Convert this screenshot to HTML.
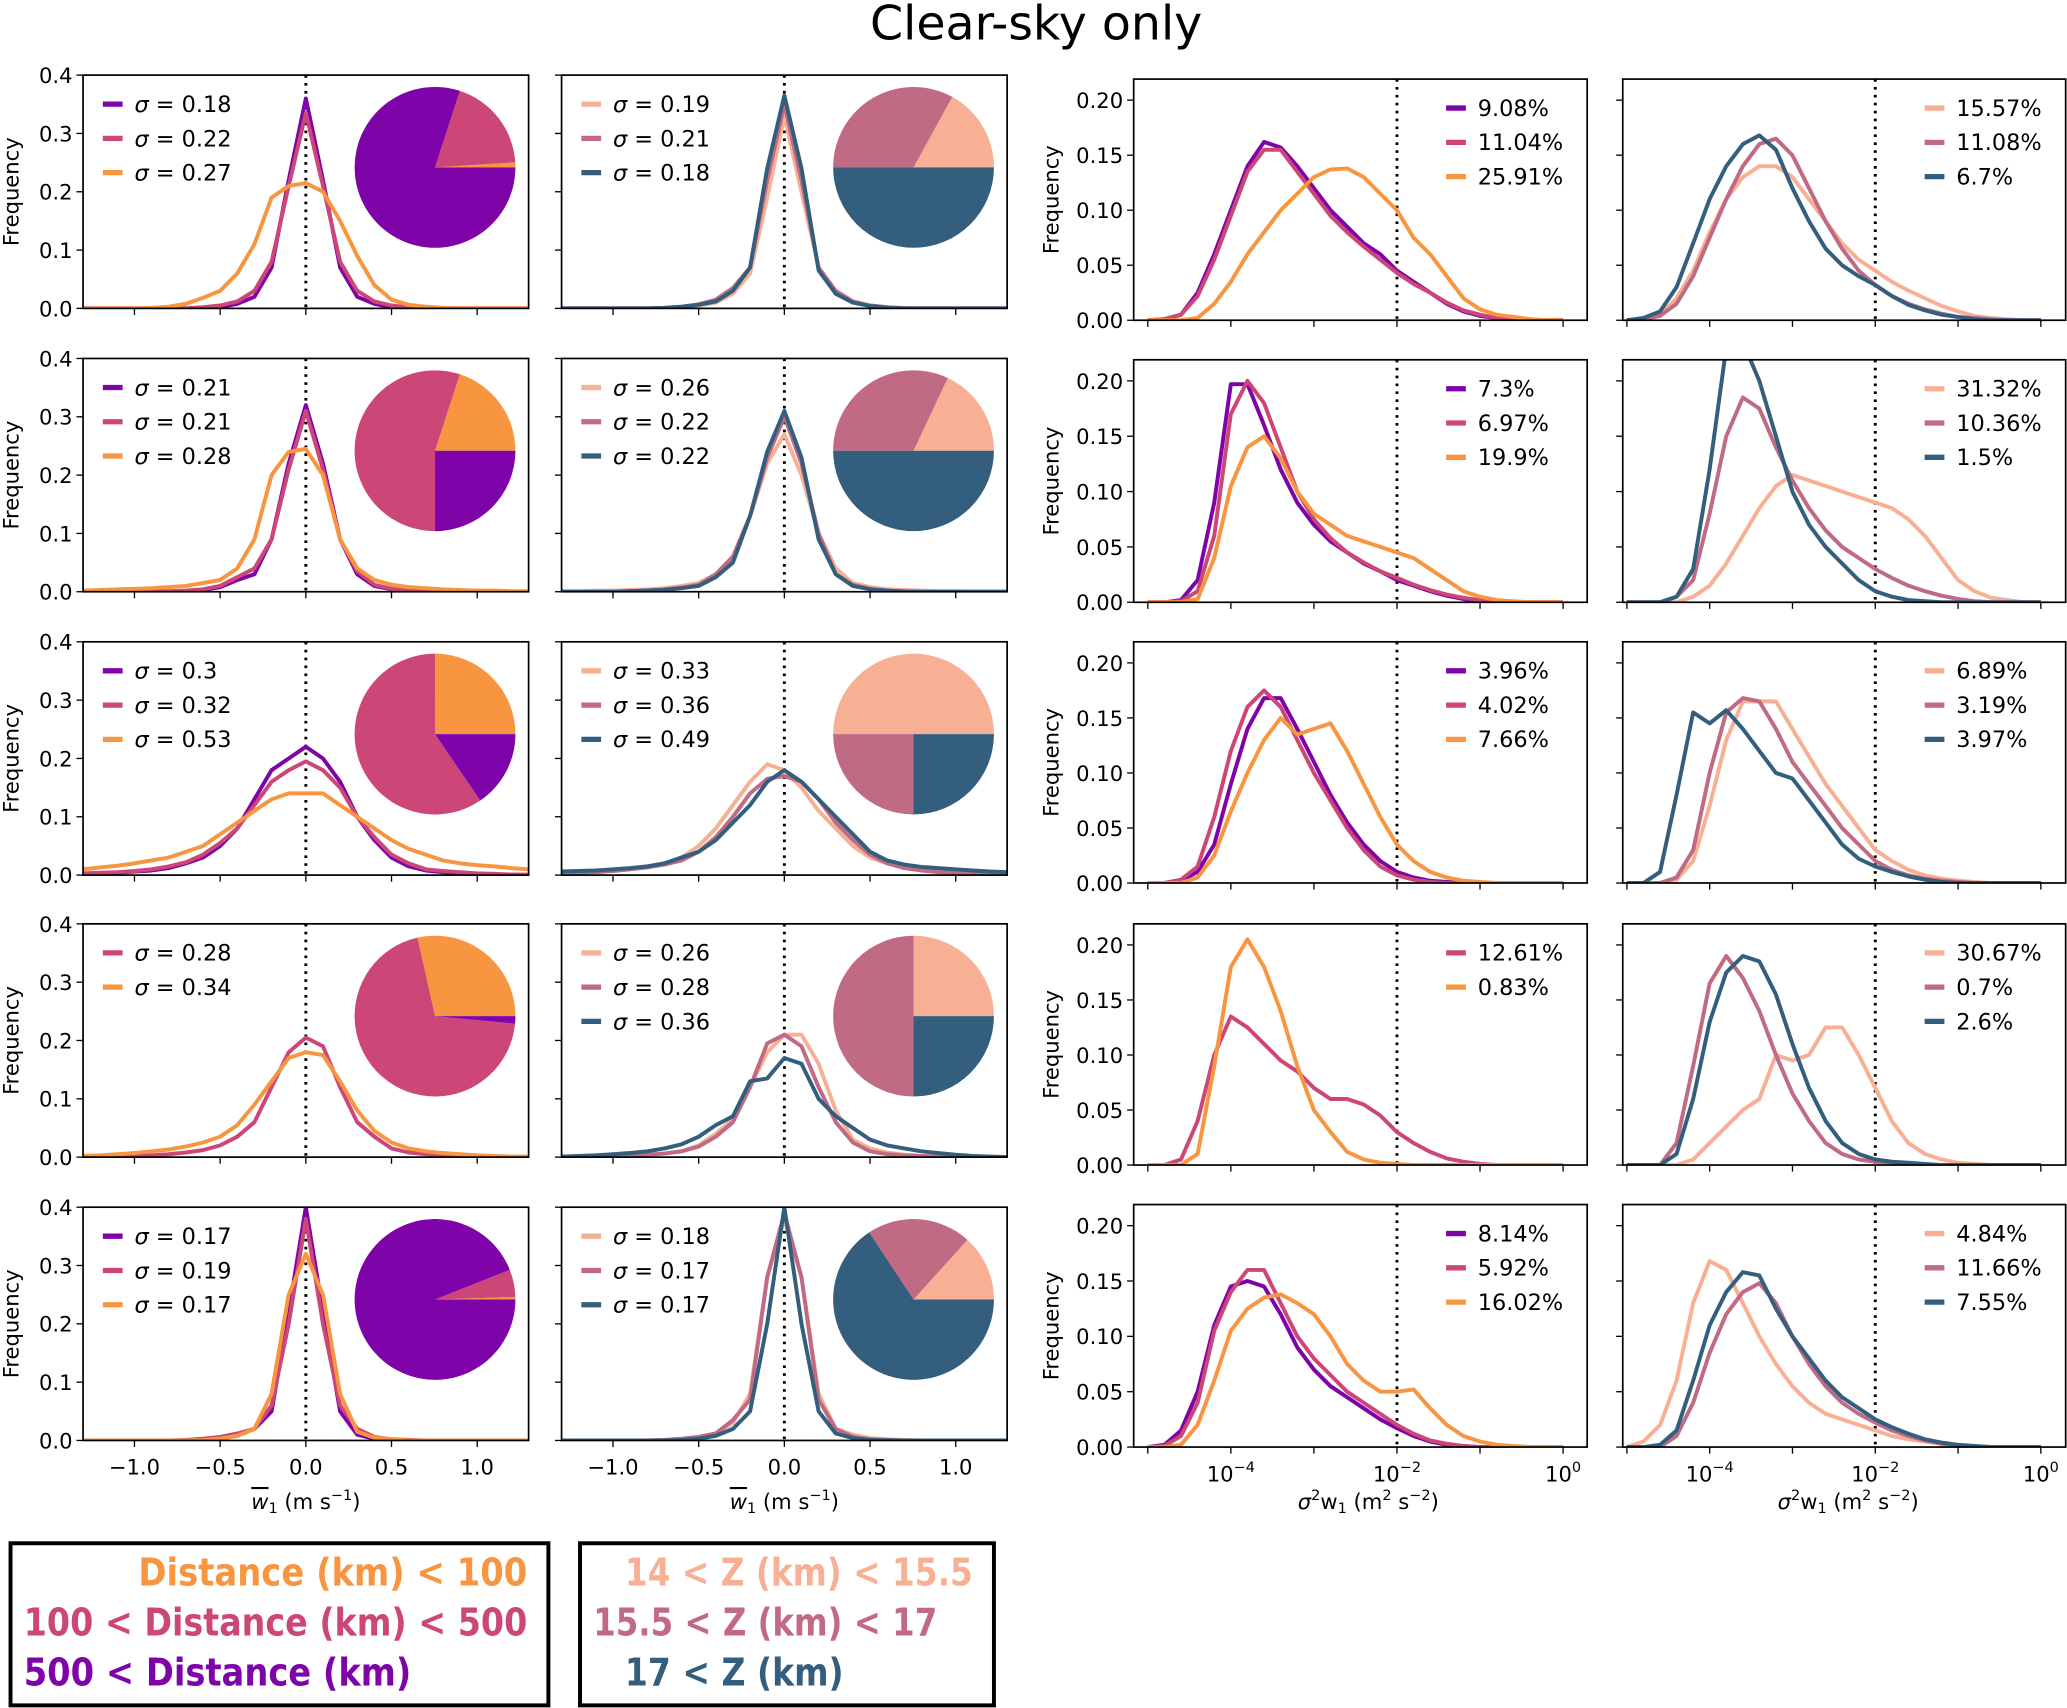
<!DOCTYPE html>
<html><head><meta charset="utf-8"><style>
html,body{margin:0;padding:0;background:#fff;}
svg{display:block;font-family:"DejaVu Sans","Liberation Sans",sans-serif;}
</style></head><body>
<svg id="fig" width="2067" height="1708" viewBox="0 0 1568 1296" preserveAspectRatio="none" xmlns="http://www.w3.org/2000/svg">
<text x="786" y="30" font-size="36" text-anchor="middle">Clear-sky only</text>
<g>
<rect x="8" y="1171" width="408" height="123" fill="none" stroke="#000" stroke-width="3"/>
<text x="400" y="1203" font-size="29" font-weight="bold" fill="#f89540" text-anchor="end" textLength="295" lengthAdjust="spacingAndGlyphs">Distance (km) &lt; 100</text>
<text x="400" y="1241" font-size="29" font-weight="bold" fill="#cc4778" text-anchor="end" textLength="382" lengthAdjust="spacingAndGlyphs">100 &lt; Distance (km) &lt; 500</text>
<text x="18" y="1279" font-size="29" font-weight="bold" fill="#7e03a8" textLength="294" lengthAdjust="spacingAndGlyphs">500 &lt; Distance (km)</text>
</g>
<g>
<rect x="440" y="1171" width="314" height="123" fill="none" stroke="#000" stroke-width="3"/>
<text x="474" y="1203" font-size="29" font-weight="bold" fill="#f7b094" textLength="264" lengthAdjust="spacingAndGlyphs">14 &lt; Z (km) &lt; 15.5</text>
<text x="450" y="1241" font-size="29" font-weight="bold" fill="#c06a84" textLength="261" lengthAdjust="spacingAndGlyphs">15.5 &lt; Z (km) &lt; 17</text>
<text x="474" y="1279" font-size="29" font-weight="bold" fill="#345e7e" textLength="166" lengthAdjust="spacingAndGlyphs">17 &lt; Z (km)</text>
</g>
</svg>
<script>
// ---- data ----
const wBins = [-1.3,-1.2,-1.1,-1.0,-0.9,-0.8,-0.7,-0.6,-0.5,-0.4,-0.3,-0.2,-0.1,0,0.1,0.2,0.3,0.4,0.5,0.6,0.7,0.8,0.9,1.0,1.1,1.2,1.3];
const logBins = [-5,-4.8,-4.6,-4.4,-4.2,-4.0,-3.8,-3.6,-3.4,-3.2,-3.0,-2.8,-2.6,-2.4,-2.2,-2.0,-1.8,-1.6,-1.4,-1.2,-1.0,-0.8,-0.6,-0.4,-0.2,0];
const distColors = {O:'#f89540',K:'#cc4778',P:'#7e03a8'};
const altColors = {L:'#f7b094',M:'#c06a84',D:'#345e7e'};

const meanR1C1 = {P:[0,0,0,0,0,0,0,0,.002,.008,.02,.07,.22,.36,.22,.07,.02,.008,.002,0,0,0,0,0,0,0,0],
 K:[0,0,0,0,0,0,0,.002,.005,.012,.03,.08,.21,.335,.21,.08,.03,.012,.005,.002,0,0,0,0,0,0,0],
 O:[0,0,0,0,.001,.003,.008,.018,.03,.06,.11,.19,.21,.215,.2,.15,.09,.04,.015,.006,.003,.001,0,0,0,0,0]};
const meanR1C2 = {L:[0,0,0,0,0,0,0,.002,.005,.01,.025,.06,.19,.33,.2,.07,.025,.01,.005,.002,.001,0,0,0,0,0,0],
 M:[0,0,0,0,0,0,.001,.003,.007,.015,.035,.07,.22,.35,.22,.07,.03,.012,.005,.002,0,0,0,0,0,0,0],
 D:[0,0,0,0,0,0,.001,.003,.006,.012,.03,.07,.24,.365,.24,.065,.025,.01,.004,.001,0,0,0,0,0,0,0]};
const meanR2C1 = {P:[0,0,0,0,0,0,.001,.003,.008,.02,.03,.09,.22,.32,.22,.09,.03,.01,.004,.001,0,0,0,0,0,0,0],
 K:[0,0,0,0,0,.001,.002,.004,.01,.025,.04,.09,.21,.31,.21,.09,.035,.012,.005,.002,0,0,0,0,0,0,0],
 O:[.002,.003,.004,.005,.006,.008,.01,.015,.02,.04,.09,.2,.24,.245,.2,.09,.04,.02,.012,.008,.006,.004,.003,.002,.002,.001,.001]};
const meanR2C2 = {L:[.001,.001,.002,.002,.003,.004,.006,.01,.015,.03,.06,.13,.22,.27,.2,.1,.04,.015,.008,.004,.003,.002,.001,.001,0,0,0],
 M:[0,0,0,0,.001,.002,.004,.007,.012,.03,.06,.13,.23,.3,.22,.1,.03,.012,.005,.002,.001,0,0,0,0,0,0],
 D:[0,0,0,0,.001,.002,.003,.006,.01,.025,.05,.13,.24,.31,.23,.09,.03,.01,.004,.002,0,0,0,0,0,0,0]};
const meanR3C1 = {P:[.002,.003,.004,.006,.008,.012,.02,.03,.05,.08,.13,.18,.2,.22,.2,.16,.1,.06,.03,.015,.008,.005,.003,.002,.001,.001,0],
 K:[.003,.004,.005,.007,.01,.015,.022,.035,.055,.08,.12,.16,.18,.195,.18,.15,.1,.065,.035,.02,.01,.007,.005,.003,.002,.001,.001],
 O:[.01,.013,.016,.02,.025,.03,.04,.05,.07,.09,.11,.13,.14,.14,.14,.12,.1,.08,.06,.045,.035,.025,.02,.017,.015,.012,.01]};
const meanR3C2 = {L:[.003,.004,.006,.008,.01,.015,.02,.03,.05,.08,.12,.16,.19,.18,.15,.11,.08,.05,.03,.02,.012,.008,.006,.004,.003,.002,.001],
 M:[.003,.004,.005,.007,.01,.013,.018,.025,.04,.065,.1,.14,.165,.17,.16,.13,.09,.06,.035,.02,.012,.008,.005,.004,.003,.002,.001],
 D:[.006,.007,.008,.01,.012,.015,.02,.03,.04,.06,.09,.12,.16,.18,.16,.13,.1,.07,.04,.025,.018,.014,.012,.01,.008,.006,.005]};
const meanR4C1 = {K:[0,0,.001,.002,.003,.005,.008,.012,.02,.035,.06,.12,.18,.205,.19,.12,.06,.035,.015,.008,.005,.003,.002,.001,0,0,0],
 O:[.002,.003,.005,.007,.01,.013,.018,.025,.035,.055,.09,.13,.17,.18,.175,.13,.08,.045,.025,.015,.01,.007,.005,.003,.002,.001,.001]};
const meanR4C2 = {L:[0,0,.001,.002,.003,.004,.006,.01,.02,.04,.065,.12,.18,.21,.21,.16,.08,.03,.015,.008,.004,.002,.001,0,0,0,0],
 M:[0,0,.001,.002,.003,.004,.006,.01,.018,.035,.06,.12,.195,.21,.19,.12,.06,.025,.01,.005,.003,.002,.001,0,0,0,0],
 D:[.001,.002,.003,.005,.007,.01,.015,.022,.035,.055,.07,.13,.135,.17,.16,.1,.07,.05,.03,.02,.015,.01,.007,.004,.002,.001,0]};
const meanR5C1 = {P:[0,0,0,0,0,0,0,.001,.003,.008,.02,.05,.22,.4,.22,.05,.01,.003,.001,0,0,0,0,0,0,0,0],
 K:[0,0,0,0,0,0,.001,.003,.006,.012,.02,.06,.2,.38,.2,.06,.02,.006,.002,.001,0,0,0,0,0,0,0],
 O:[0,0,0,0,0,0,0,.001,.003,.008,.02,.08,.25,.32,.25,.08,.015,.005,.002,0,0,0,0,0,0,0,0]};
const meanR5C2 = {L:[0,0,0,0,0,0,.001,.003,.006,.012,.03,.08,.28,.38,.28,.08,.02,.01,.004,.002,.001,0,0,0,0,0,0],
 M:[0,0,0,0,0,0,.001,.003,.006,.012,.035,.07,.28,.39,.28,.07,.02,.006,.002,.001,0,0,0,0,0,0,0],
 D:[0,0,0,0,0,0,0,.001,.003,.008,.02,.05,.2,.4,.2,.05,.012,.004,.001,0,0,0,0,0,0,0,0]};

const varR1C3 = {P:[0,.001,.005,.025,.06,.1,.14,.162,.157,.14,.12,.1,.085,.07,.06,.045,.035,.025,.015,.008,.004,.002,.001,0,0,0],
 K:[0,.001,.005,.022,.055,.095,.135,.155,.155,.135,.115,.095,.08,.067,.055,.043,.033,.025,.016,.009,.005,.002,.001,0,0,0],
 O:[0,0,0,.002,.015,.035,.06,.08,.1,.115,.13,.137,.138,.13,.115,.1,.075,.06,.04,.02,.01,.005,.003,.001,0,0]};
const varR1C4 = {L:[0,.001,.005,.02,.045,.08,.11,.13,.14,.14,.13,.11,.09,.07,.055,.045,.035,.027,.02,.013,.008,.004,.002,.001,0,0],
 M:[0,.001,.004,.015,.04,.075,.11,.14,.16,.165,.15,.12,.09,.065,.045,.032,.022,.015,.01,.006,.003,.002,.001,0,0,0],
 D:[0,.002,.008,.03,.07,.11,.14,.16,.168,.155,.12,.09,.065,.05,.04,.032,.022,.014,.009,.005,.003,.001,0,0,0,0]};
const varR2C3 = {P:[0,0,.002,.02,.09,.197,.197,.16,.12,.09,.07,.055,.045,.035,.028,.02,.015,.01,.006,.003,.001,0,0,0,0,0],
 K:[0,0,.001,.01,.06,.17,.2,.18,.14,.1,.075,.058,.045,.036,.028,.022,.016,.011,.007,.004,.002,.001,0,0,0,0],
 O:[0,0,0,.003,.04,.105,.14,.15,.13,.1,.08,.07,.06,.055,.05,.045,.04,.03,.02,.01,.005,.002,.001,0,0,0]};
const varR2C4 = {L:[0,0,0,0,.005,.015,.035,.06,.085,.105,.115,.11,.105,.1,.095,.09,.085,.075,.06,.04,.02,.01,.004,.002,0,0],
 M:[0,0,0,.005,.02,.08,.15,.185,.175,.14,.11,.085,.065,.05,.04,.03,.022,.015,.01,.006,.003,.001,0,0,0,0],
 D:[0,0,0,.005,.03,.12,.23,.235,.2,.15,.1,.07,.05,.035,.02,.01,.005,.002,.001,0,0,0,0,0,0,0]};
const varR3C3 = {P:[0,0,.002,.01,.035,.09,.14,.168,.168,.14,.11,.08,.055,.035,.02,.01,.005,.002,.001,0,0,0,0,0,0,0],
 K:[0,0,.003,.015,.06,.12,.16,.175,.16,.13,.1,.075,.05,.03,.015,.007,.003,.001,0,0,0,0,0,0,0,0],
 O:[0,0,0,.005,.025,.065,.1,.13,.15,.135,.14,.145,.12,.09,.06,.035,.02,.01,.005,.002,.001,0,0,0,0,0]};
const varR3C4 = {L:[0,0,0,.003,.02,.07,.13,.165,.165,.165,.14,.115,.09,.07,.05,.03,.02,.012,.007,.004,.002,.001,0,0,0,0],
 M:[0,0,0,.005,.03,.1,.155,.168,.165,.14,.11,.09,.07,.05,.035,.02,.012,.007,.004,.002,.001,0,0,0,0,0],
 D:[0,0,.01,.08,.155,.145,.157,.14,.12,.1,.095,.075,.055,.035,.022,.015,.01,.006,.003,.001,0,0,0,0,0,0]};
const varR4C3 = {K:[0,0,.005,.04,.1,.135,.125,.11,.095,.085,.07,.06,.06,.055,.045,.03,.02,.012,.006,.003,.001,0,0,0,0,0],
 O:[0,0,0,.01,.09,.18,.205,.18,.14,.09,.05,.03,.012,.005,.002,.001,0,0,0,0,0,0,0,0,0,0]};
const varR4C4 = {L:[0,0,0,0,.005,.02,.035,.05,.06,.1,.095,.1,.125,.125,.1,.07,.04,.02,.01,.005,.002,.001,0,0,0,0],
 M:[0,0,0,.02,.09,.165,.19,.17,.14,.1,.065,.04,.02,.01,.005,.003,.002,.001,0,0,0,0,0,0,0,0],
 D:[0,0,0,.01,.06,.13,.175,.19,.185,.155,.11,.07,.04,.02,.01,.005,.003,.002,.001,0,0,0,0,0,0,0]};
const varR5C3 = {P:[0,.002,.015,.05,.11,.145,.15,.145,.12,.09,.07,.055,.045,.035,.025,.017,.01,.005,.002,.001,0,0,0,0,0,0],
 K:[0,.001,.01,.04,.105,.14,.16,.16,.13,.1,.08,.065,.05,.04,.03,.02,.012,.006,.003,.001,0,0,0,0,0,0],
 O:[0,0,.002,.02,.06,.105,.125,.135,.138,.13,.12,.1,.075,.06,.05,.05,.052,.035,.02,.01,.005,.002,.001,0,0,0]};
const varR5C4 = {L:[0,.005,.02,.06,.13,.168,.16,.13,.1,.075,.055,.04,.03,.025,.02,.015,.01,.007,.005,.003,.002,.001,0,0,0,0],
 M:[0,0,0,.01,.04,.085,.12,.14,.148,.13,.1,.075,.055,.04,.03,.022,.015,.01,.006,.003,.001,0,0,0,0,0],
 D:[0,0,.002,.015,.06,.11,.14,.158,.155,.125,.1,.08,.06,.045,.035,.025,.018,.012,.007,.004,.002,.001,0,0,0,0]};

const sigmaC1 = [['0.18','0.22','0.27'],['0.21','0.21','0.28'],['0.3','0.32','0.53'],['0.28','0.34'],['0.17','0.19','0.17']];
const sigmaC2 = [['0.19','0.21','0.18'],['0.26','0.22','0.22'],['0.33','0.36','0.49'],['0.26','0.28','0.36'],['0.18','0.17','0.17']];
const pctC3 = [['9.08%','11.04%','25.91%'],['7.3%','6.97%','19.9%'],['3.96%','4.02%','7.66%'],['12.61%','0.83%'],['8.14%','5.92%','16.02%']];
const pctC4 = [['15.57%','11.08%','6.7%'],['31.32%','10.36%','1.5%'],['6.89%','3.19%','3.97%'],['30.67%','0.7%','2.6%'],['4.84%','11.66%','7.55%']];
const pieC1 = [[.01,.19,.80],[.2,.55,.25],[.25,.595,.155],[.285,.70,.015],[.005,.055,.94]];
const pieC2 = [[.17,.33,.50],[.18,.32,.50],[.5,.25,.25],[.25,.5,.25],[.133,.21,.657]];
const yTicksMean = [0,0.1,0.2,0.3,0.4];
const yTicksVar = [0,0.05,0.1,0.15,0.2];
const xTicksMean = [-1,-0.5,0,0.5,1];
const xTicksVar = [-4,-2,0];

// ---- drawing ----
const NS='http://www.w3.org/2000/svg';
const svg=document.getElementById('fig');
function mk(tag,attrs,parent){const e=document.createElementNS(NS,tag);for(const k in attrs)e.setAttribute(k,attrs[k]);(parent||svg).appendChild(e);return e;}
const rowTopL=[57,272,487,701,916], rowH=177;
const rowTopR=[60,273,487,701,914];
const meanSets=[[meanR1C1,meanR1C2],[meanR2C1,meanR2C2],[meanR3C1,meanR3C2],[meanR4C1,meanR4C2],[meanR5C1,meanR5C2]];
const varSets=[[varR1C3,varR1C4],[varR2C3,varR2C4],[varR3C3,varR3C4],[varR4C3,varR4C4],[varR5C3,varR5C4]];
const colX=[[63,401],[426,764],[860,1204],[1231,1567]];
let clipId=0;
function fmt(v,d){return v.toFixed(d);}

function panel(r,c){
  const isMean=c<2; const [x0,x1]=colX[c];
  const top=isMean?rowTopL[r]:rowTopR[r]; const bot=isMean?rowTopL[r]+rowH:[243,457,670,884,1098][r];
  const ymax=isMean?0.4:0.2*(bot-top)/((bot-top)-16);
  const g=mk('g',{});
  
  
  let xs;
  if(isMean){xs=v=>x0+(v+1.3)/2.6*(x1-x0);}
  else{const l0=c==2?-5.17:-5.05, l1=c==2?0.29:0.3; xs=v=>x0+(v-l0)/(l1-l0)*(x1-x0);}
  const ys=v=>bot-v/ymax*(bot-top);
  const id='cp'+(clipId++);
  const cp=mk('clipPath',{id:id},g); mk('rect',{x:x0,y:top,width:x1-x0,height:bot-top},cp);
  // dotted line
  const vx=isMean?xs(0):xs(-2);
  mk('line',{x1:vx,x2:vx,y1:top,y2:bot,stroke:'#000','stroke-width':2.2,'stroke-dasharray':'2,4'},g);
  // ticks
  const yt=isMean?yTicksMean:yTicksVar;
  yt.forEach(t=>{const y=ys(t);mk('line',{x1:x0-5,x2:x0,y1:y,y2:y,stroke:'#000','stroke-width':1},g);
    if(c==0||c==2){const tx=mk('text',{x:x0-8,y:y+6,'font-size':16,'text-anchor':'end'},g);tx.textContent=fmt(t,isMean?1:2);}});
  const xt=isMean?xTicksMean:xTicksVar;
  xt.forEach(t=>{const x=xs(t);mk('line',{x1:x,x2:x,y1:bot,y2:bot+5,stroke:'#000','stroke-width':1},g);
    if(r==4){const tx=mk('text',{x:x,y:bot+26,'font-size':16,'text-anchor':'middle'},g);
      if(isMean){tx.textContent=(t<0?'\u2212':'')+Math.abs(t).toFixed(1);}
      else{tx.textContent='10';const s=mk('tspan',{'font-size':11,dy:-7},tx);s.textContent=t<0?'\u2212'+(-t):String(t);}}});
  if(!isMean){[-5,-3,-1].forEach(t=>{const x=xs(t);mk('line',{x1:x,x2:x,y1:bot,y2:bot+5,stroke:'#000','stroke-width':1},g);});}
  // curves
  const set=isMean?meanSets[r][c]:varSets[r][c-2];
  const cols=(c%2==0)?distColors:altColors;
  const bins=isMean?wBins:logBins;
  const lg=mk('g',{'clip-path':'url(#'+id+')'},g);
  const keys=Object.keys(set);
  keys.forEach(k=>{const pts=set[k].map((v,i)=>xs(bins[i]).toFixed(1)+','+ys(v).toFixed(1)).join(' ');
    const pl=mk('polyline',{points:pts,fill:'none',stroke:cols[k],'stroke-width':3,'stroke-linejoin':'round'},lg);
    
    });
  // frame
  mk('rect',{x:x0,y:top,width:x1-x0,height:bot-top,fill:'none',stroke:'#000','stroke-width':1.3},g);
  // legend
  const labels=c==0?sigmaC1[r]:c==1?sigmaC2[r]:c==2?pctC3[r]:pctC4[r];
  const lx=isMean?x0+15:(c==2?1097:1460);
  labels.forEach((lab,i)=>{const y=top+22+26*i;const k=keys[i];
    const le=mk('g',{},g);
    
    
    mk('line',{x1:lx,x2:lx+15,y1:y,y2:y,stroke:cols[k],'stroke-width':4},le);
    const t=mk('text',{x:lx+24,y:y+6,'font-size':17},le);
    if(isMean){const s=mk('tspan',{'font-style':'italic'},t);s.textContent='\u03c3';const s2=mk('tspan',{},t);s2.textContent=' = '+lab;}
    else t.textContent=lab;});
  // pie
  if(isMean){const fr=c==0?pieC1[r]:pieC2[r];const cx=c==0?330:693, cy=top+70, R=61;
    const pc=c==0?[distColors.O,distColors.K,distColors.P]:[altColors.L,altColors.M,altColors.D];
    const pg=mk('g',{},g);
    
    
    let a=0;fr.forEach((f,i)=>{const a2=a+f*2*Math.PI;
      const xA=cx+R*Math.cos(a), yA=cy-R*Math.sin(a), xB=cx+R*Math.cos(a2), yB=cy-R*Math.sin(a2);
      const large=(a2-a)>Math.PI?1:0;
      const p=mk('path',{d:`M${cx},${cy} L${xA.toFixed(2)},${yA.toFixed(2)} A${R},${R} 0 ${large} 0 ${xB.toFixed(2)},${yB.toFixed(2)} Z`,fill:pc[i]},pg);
      
      
      a=a2;});}
  // y label
  if(c==0||c==2){const lx2=c==0?14:803;const yy=(top+bot)/2;
    const t=mk('text',{x:lx2,y:yy,'font-size':16,'text-anchor':'middle',transform:`rotate(-90 ${lx2} ${yy})`},g);
    
    
    t.textContent='Frequency';}
}
for(let r=0;r<5;r++)for(let c=0;c<4;c++)panel(r,c);
// x axis titles
[[232,'m'],[595,'m'],[1038,'v'],[1402,'v']].forEach(([x,t])=>{
  const tx=mk('text',{x:x,y:1145,'font-size':16,'text-anchor':'middle'});
  
  
  if(t=='m'){const a=mk('tspan',{'font-style':'italic','text-decoration':'overline'},tx);a.textContent='w';
    const b=mk('tspan',{'font-size':11,dy:3},tx);b.textContent='1';
    const c2=mk('tspan',{dy:-3},tx);c2.textContent=' (m s';const d=mk('tspan',{'font-size':11,dy:-7},tx);d.textContent='\u22121';
    const e=mk('tspan',{dy:7},tx);e.textContent=')';}
  else{const a=mk('tspan',{'font-style':'italic'},tx);a.textContent='\u03c3';
    const b=mk('tspan',{'font-size':11,dy:-7},tx);b.textContent='2';
    const c2=mk('tspan',{dy:7},tx);c2.textContent='w';const d=mk('tspan',{'font-size':11,dy:3},tx);d.textContent='1';
    const e=mk('tspan',{dy:-3},tx);e.textContent=' (m';const f=mk('tspan',{'font-size':11,dy:-7},tx);f.textContent='2';
    const g2=mk('tspan',{dy:7},tx);g2.textContent=' s';const h=mk('tspan',{'font-size':11,dy:-7},tx);h.textContent='\u22122';
    const i2=mk('tspan',{dy:7},tx);i2.textContent=')';}
});
</script>
</body></html>
